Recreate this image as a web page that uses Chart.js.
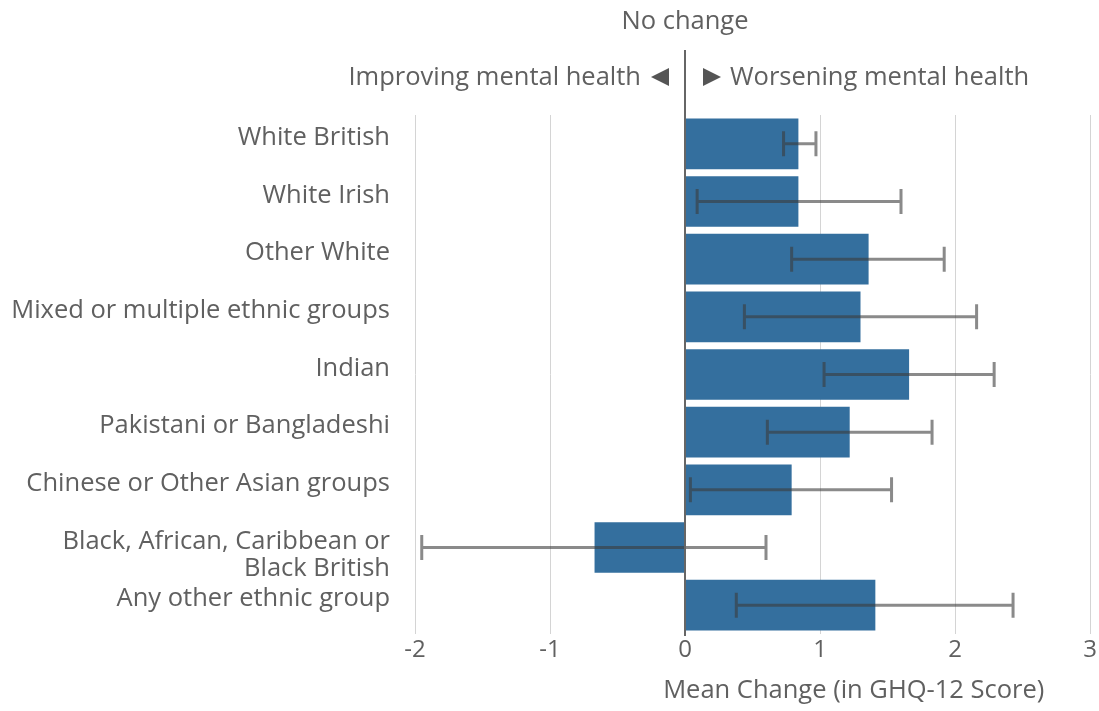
<!DOCTYPE html>
<html>
<head>
<meta charset="utf-8">
<script src="https://cdn.jsdelivr.net/npm/chart.js@4"></script>
<style>
  html, body { margin: 0; padding: 0; background: #ffffff; }
  #wrap { width: 1099px; height: 711px; position: relative; }
</style>
</head>
<body>
<div id="wrap"><canvas id="chart"></canvas></div>
<script>
// Mean change in GHQ-12 score by ethnic group, with confidence intervals
const categories = [
  'White British',
  'White Irish',
  'Other White',
  'Mixed or multiple ethnic groups',
  'Indian',
  'Pakistani or Bangladeshi',
  'Chinese or Other Asian groups',
  ['', 'Black, African, Caribbean or', 'Black British'],
  'Any other ethnic group'
];
const meanChange = [0.84, 0.84, 1.36, 1.30, 1.66, 1.22, 0.79, -0.67, 1.41];
const ciLow      = [0.73, 0.09, 0.79, 0.44, 1.03, 0.61, 0.04, -1.95, 0.38];
const ciHigh     = [0.97, 1.60, 1.92, 2.16, 2.29, 1.83, 1.53, 0.60, 2.43];
const xTicks = [-2, -1, 0, 1, 2, 3];

const FONT = '"Open Sans", "Noto Sans", sans-serif';
const TEXT = '#606060';
const SIZE = 25.5;

// Confidence-interval whiskers, the zero line and the direction notes
const overlay = {
  id: 'overlay',
  afterDatasetsDraw(chart) {
    const { ctx, scales } = chart;
    const x = scales.x, y = scales.y;
    ctx.save();
    // whiskers
    ctx.strokeStyle = 'rgba(60,60,60,0.6)';
    ctx.lineWidth = 3;
    const cap = 12.5;
    for (let i = 0; i < meanChange.length; i++) {
      const yc = y.getPixelForValue(i);
      const x1 = x.getPixelForValue(ciLow[i]);
      const x2 = x.getPixelForValue(ciHigh[i]);
      ctx.beginPath();
      ctx.moveTo(x1, yc); ctx.lineTo(x2, yc);
      ctx.moveTo(x1, yc - cap); ctx.lineTo(x1, yc + cap);
      ctx.moveTo(x2, yc - cap); ctx.lineTo(x2, yc + cap);
      ctx.stroke();
    }
    // zero line
    const x0 = x.getPixelForValue(0);
    ctx.strokeStyle = '#666666';
    ctx.lineWidth = 2;
    ctx.beginPath();
    ctx.moveTo(x0, 50);
    ctx.lineTo(x0, chart.chartArea.bottom + 2);
    ctx.stroke();

    // notes above the plot
    ctx.fillStyle = TEXT;
    ctx.font = SIZE + 'px ' + FONT;
    ctx.textBaseline = 'middle';
    ctx.textAlign = 'center';
    ctx.fillText('No change', x0, 22);
    ctx.textAlign = 'right';
    ctx.fillText('Improving mental health', x0 - 44, 78);
    ctx.textAlign = 'left';
    ctx.fillText('Worsening mental health', x0 + 45, 78);
    ctx.fillStyle = '#555555';
    ctx.beginPath();
    ctx.moveTo(x0 - 16, 68); ctx.lineTo(x0 - 16, 86); ctx.lineTo(x0 - 34, 77); ctx.closePath();
    ctx.fill();
    ctx.beginPath();
    ctx.moveTo(x0 + 18, 68); ctx.lineTo(x0 + 18, 86); ctx.lineTo(x0 + 36, 77); ctx.closePath();
    ctx.fill();

    // axis title
    ctx.fillStyle = TEXT;
    ctx.font = SIZE + 'px ' + FONT;
    ctx.textAlign = 'center';
    ctx.fillText('Mean Change (in GHQ-12 Score)', x.getPixelForValue(1.25), 691);
    ctx.restore();
  }
};

new Chart(document.getElementById('chart'), {
  type: 'bar',
  data: {
    labels: categories,
    datasets: [{
      data: meanChange,
      backgroundColor: '#346f9e',
      borderWidth: 0,
      barPercentage: 0.88,
      categoryPercentage: 1.0
    }]
  },
  options: {
    indexAxis: 'y',
    responsive: true,
    maintainAspectRatio: false,
    animation: false,
    layout: { padding: { top: 115, right: 9, bottom: 0, left: 0 } },
    plugins: { legend: { display: false }, tooltip: { enabled: false } },
    scales: {
      x: {
        min: -2,
        max: 3,
        afterBuildTicks(scale) { scale.ticks = xTicks.map(v => ({ value: v })); },
        afterFit(scale) { scale.height = 77; },
        border: { display: false },
        grid: { color: '#d4d4d4', lineWidth: 1, drawTicks: false },
        ticks: {
          padding: 2,
          color: TEXT,
          autoSkip: false,
          maxRotation: 0,
          font: { family: FONT, size: 24 },
          callback: v => String(v)
        }
      },
      y: {
        afterFit(scale) { scale.width = 415; },
        border: { display: false },
        grid: { display: false, drawTicks: false },
        ticks: {
          padding: 25,
          labelOffset: -6,
          autoSkip: false,
          color: TEXT,
          font: { family: FONT, size: SIZE, lineHeight: 1.06 }
        }
      }
    }
  },
  plugins: [overlay]
});
</script>
</body>
</html>
